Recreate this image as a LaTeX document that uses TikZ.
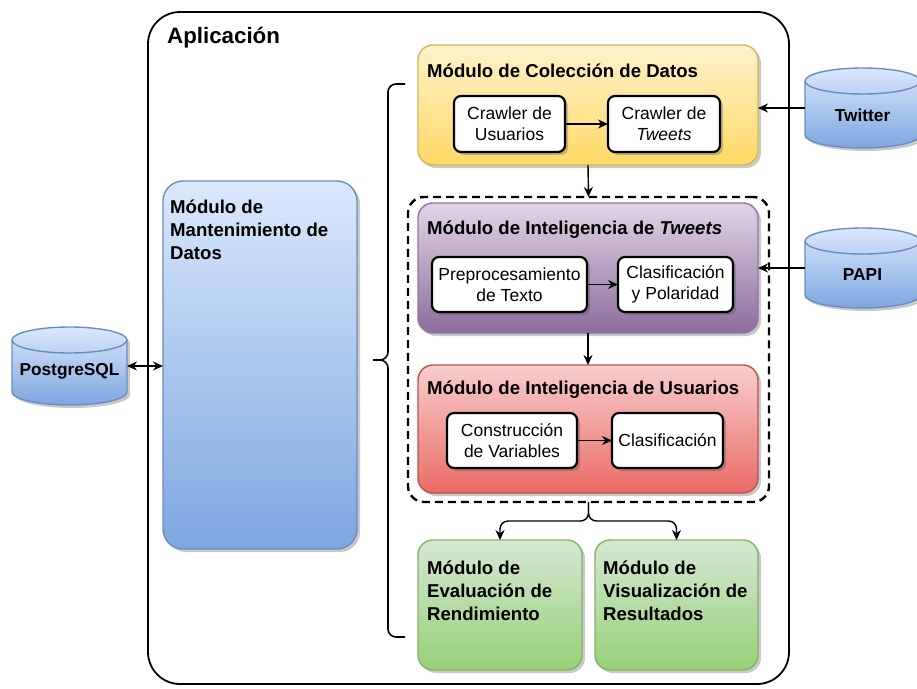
\documentclass[tikz,border=0pt]{standalone}
\usepackage{fontspec}
\setmainfont{Liberation Sans}
\usetikzlibrary{arrows.meta,shadows,calc}

\definecolor{ylwTop}{HTML}{FFF2CC}\definecolor{ylwBot}{HTML}{FFD966}\definecolor{ylwLine}{HTML}{D6B656}
\definecolor{purTop}{HTML}{E1D5E7}\definecolor{purBot}{HTML}{8C6C9C}\definecolor{purLine}{HTML}{9673A6}
\definecolor{redTop}{HTML}{F8CECC}\definecolor{redBot}{HTML}{EA6B66}\definecolor{redLine}{HTML}{B85450}
\definecolor{grnTop}{HTML}{D5E8D4}\definecolor{grnBot}{HTML}{97D077}\definecolor{grnLine}{HTML}{82B366}
\definecolor{bluTop}{HTML}{DAE8FC}\definecolor{bluBot}{HTML}{7EA6E0}\definecolor{bluLine}{HTML}{6C8EBF}

% database drum drawn around an (empty) node of width 115
\newcommand\dbdrum[1]{%
  \draw[drum] ($(#1.north west)+(0,13)$) -- ($(#1.south west)+(0,-13)$)
    arc[start angle=180,end angle=360,x radius=57.5pt,y radius=13pt]
    -- ($(#1.north east)+(0,13)$)
    arc[start angle=0,end angle=180,x radius=57.5pt,y radius=13pt] -- cycle;
  \draw[drumline] ($(#1.north west)+(0,13)$)
    arc[start angle=180,end angle=360,x radius=57.5pt,y radius=13pt];}

\begin{document}
\begin{tikzpicture}[x=1pt,y=-1pt,
  shade/.style={drop shadow={shadow xshift=3pt,shadow yshift=-3pt,opacity=0.3,fill=black!70}},
  module/.style={draw, line width=1.4pt, rounded corners=15, anchor=north west, outer sep=0pt, shade},
  ylwmod/.style={module, draw=ylwLine, top color=ylwTop, bottom color=ylwBot},
  purmod/.style={module, draw=purLine, top color=purTop, bottom color=purBot},
  redmod/.style={module, draw=redLine, top color=redTop, bottom color=redBot},
  grnmod/.style={module, draw=grnLine, top color=grnTop, bottom color=grnBot},
  blumod/.style={module, draw=bluLine, top color=bluTop, bottom color=bluBot, rounded corners=20},
  task/.style={draw=black, line width=2.2pt, fill=white, rounded corners=7, anchor=north west,
    align=center, inner sep=0pt, outer sep=0pt, font=\fontsize{17.5}{21}\selectfont, shade},
  modtitle/.style={font=\fontsize{18.6}{22.5}\selectfont\bfseries, anchor=west, inner sep=0pt},
  modtext/.style={font=\fontsize{18.6}{22.8}\selectfont\bfseries, anchor=north west, align=left, inner sep=0pt},
  dbnode/.style={minimum width=115, minimum height=80, inner sep=0pt, outer sep=0pt},
  dblabel/.style={font=\fontsize{17.3}{20}\selectfont\bfseries, inner sep=0pt},
  drum/.style={draw=bluLine, line width=1.4pt, top color=bluTop, bottom color=bluBot, shade},
  drumline/.style={draw=bluLine, line width=1.4pt},
  flow/.style={line width=1.4pt, -{Stealth[length=10pt,width=9pt]}},
  brace/.style={line width=1.6pt, rounded corners=8},
  dashbox/.style={draw, line width=2.4pt, dash pattern=on 8pt off 5pt, rounded corners=16,
    anchor=north west, outer sep=0pt},
]
\useasboundingbox (0,0) rectangle (917,688);

% application frame
\node[draw, line width=1.8pt, rounded corners=32, minimum width=641, minimum height=672,
  anchor=north west, outer sep=0pt] (app) at (148,12) {};
\node[font=\fontsize{22.3}{25}\selectfont\bfseries, anchor=west, inner sep=0pt] (apptitle) at (167,38) {Aplicación};

% data maintenance module
\node[blumod, minimum width=194, minimum height=368] (mant) at (163,181) {};
\node[modtext] (manttext) at (170,200) {Módulo de\\Mantenimiento de\\Datos};

% data collection module
\node[ylwmod, minimum width=340, minimum height=120] (coll) at (418,45) {};
\node[modtitle] (colltitle) at (427,71) {Módulo de Colección de Datos};
\node[task, minimum width=111, minimum height=56] (cu) at (454,96) {Crawler de\\Usuarios};
\node[task, minimum width=112, minimum height=56] (ct) at (608,96) {Crawler de\\\textit{Tweets}};

% intelligence group
\node[dashbox, minimum width=361, minimum height=305] (intel) at (408,197) {};

\node[purmod, minimum width=340, minimum height=130] (tw) at (418,203) {};
\node[modtitle] (twtitle) at (427,230) {Módulo de Inteligencia de \textit{Tweets}};
\node[task, minimum width=155, minimum height=55] (pre) at (432,257) {Preprocesamiento\\de Texto};
\node[task, minimum width=115, minimum height=55] (clap) at (618,257) {Clasificación\\y Polaridad};

\node[redmod, minimum width=340, minimum height=128] (usr) at (418,365) {};
\node[modtitle] (usrtitle) at (427,390) {Módulo de Inteligencia de Usuarios};
\node[task, minimum width=130, minimum height=55] (con) at (447,413) {Construcción\\de Variables};
\node[task, minimum width=111, minimum height=55] (cla) at (612,413) {Clasificación};

% output modules
\node[grnmod, minimum width=164, minimum height=130] (eval) at (418,540) {};
\node[modtext] (evaltext) at (427,561) {Módulo de\\Evaluación de\\Rendimiento};
\node[grnmod, minimum width=163, minimum height=130] (vis) at (595,540) {};
\node[modtext] (vistext) at (603,561) {Módulo de\\Visualización de\\Resultados};

% data sources
\node[dbnode, minimum height=78] (pg) at (69.5,366) {};
\dbdrum{pg}
\node[dblabel] (pglabel) at (69.5,371) {PostgreSQL};
\node[dbnode] (twitter) at (862.5,108) {};
\dbdrum{twitter}
\node[dblabel] (twlabel) at (862.5,115) {Twitter};
\node[dbnode] (papi) at (862.5,268) {};
\dbdrum{papi}
\node[dblabel] (papilabel) at (862.5,275) {PAPI};

% brace grouping the processing modules
\coordinate (bt) at (405,84);
\coordinate (bm) at (373,360);
\coordinate (bb) at (405,637);
\draw[brace] (bt) -- (388,84) -- (388,360) -- (bm);
\draw[brace] (bm) -- (388,360) -- (388,637) -- (bb);

% connectors
\draw[flow] (cu) -- (ct);
\draw[flow] (pre) -- (clap);
\draw[flow] (con) -- (cla);
\draw[flow] (coll.south) -- (intel.north);
\draw[flow] (tw.south) -- (usr.north);
\draw[flow] (twitter.west) -- (twitter.west -| coll.east);
\draw[flow] (papi.west) -- (papi.west -| tw.east);
\draw[flow, {Stealth[length=10pt,width=9pt]}-{Stealth[length=10pt,width=9pt]}] (pg.east) -- (pg.east -| mant.west);
\draw[flow, rounded corners=8] (intel.south) -- ++(0,19) -| (eval.north);
\draw[flow, rounded corners=8] (intel.south) -- ++(0,19) -| (vis.north);
\end{tikzpicture}
\end{document}
